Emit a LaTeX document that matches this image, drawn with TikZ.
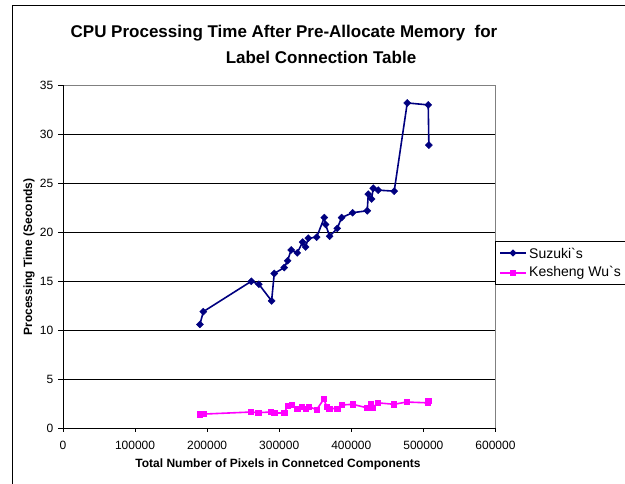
\documentclass[tikz,border=0pt]{standalone}
\usepackage{fontspec}
\setmainfont{Liberation Sans}
\usetikzlibrary{plotmarks}
\definecolor{suzuki}{HTML}{000080}
\definecolor{wu}{HTML}{FF00FF}
\definecolor{plotedge}{HTML}{808080}
\begin{document}
\begin{tikzpicture}[x={(1pt,0)}, y={(0,-1pt)},
  titletext/.style={font=\fontsize{17}{20}\selectfont\bfseries, inner sep=0pt},
  ticklab/.style={font=\fontsize{12}{14}\selectfont, inner sep=0pt},
  axtitle/.style={font=\fontsize{12}{14}\selectfont\bfseries, inner sep=0pt},
  legtext/.style={font=\fontsize{14}{16}\selectfont, inner sep=0pt, anchor=west},
  gridline/.style={black, line width=0.8pt},
  axisline/.style={black, line width=1pt},
  suzukiline/.style={suzuki, line width=1.6pt, mark=square*, mark size=2.5pt,
    mark options={rotate=45, solid, fill=suzuki, draw=suzuki, line width=0.4pt}},
  wuline/.style={wu, line width=1.6pt, mark=square*, mark size=2.6pt,
    mark options={solid, fill=wu, draw=wu, line width=0.4pt}}]
\useasboundingbox (0,0) rectangle (625,483);
\clip (0,0) rectangle (625,483);
\fill[white] (0,0) rectangle (625,483);
% chart frame
\draw[black, line width=1pt] (12,5) rectangle (660,520);

% title
\node[titletext, anchor=base] (title1) at (284,37.3) {CPU Processing Time After Pre-Allocate Memory\ \ for};
\node[titletext, anchor=base] (title2) at (321,63.3) {Label Connection Table};

% axis titles
\node[axtitle, rotate=90] (ytitle) at (29,257) {Processing Time (Seconds)};
\node[axtitle] (xtitle) at (278,464) {Total Number of Pixels in Connetced Components};

% plot area in data units (x in thousands of pixels, y in seconds)
\begin{scope}[shift={(63,428.3)}, x={(0.7208pt,0)}, y={(0,9.8pt)}]
  \draw[plotedge, line width=1pt] (0,35) -- (600,35) -- (600,0);
  \foreach \v in {5,10,...,30} \draw[gridline] (0,\v) -- (600,\v);
  \draw[axisline] (0,35) -- (0,0) -- (600,0);
  \foreach \v in {0,5,...,35} {
    \draw[axisline] (0,\v) -- ++(-5pt,0);
    \node[ticklab, anchor=east] at ([xshift=-9.5pt]0,\v) {\v};
  }
  \foreach \v/\lab in {0/0,100/100000,200/200000,300/300000,400/400000,500/500000,600/600000} {
    \draw[axisline] (\v,0) -- ++(0,-4pt);
    \node[ticklab] at ([yshift=-17pt]\v,0) {\lab};
  }

  % Suzuki's method
  \draw[suzukiline] plot coordinates {
    (190,10.6) (194.6,11.9) (261.2,15.0) (271.8,14.7) (289.4,13.0) (293.1,15.8)
    (306.9,16.4) (311.6,17.1) (316.5,18.2) (325,17.9) (332.4,19.0) (336.6,18.5)
    (340.3,19.4) (351.9,19.5) (362.5,21.5) (364.3,20.8) (369.9,19.6) (380.5,20.4)
    (386.5,21.5) (401.8,22.0) (422.1,22.2) (423.5,23.9) (428.1,23.4) (430.4,24.5)
    (437.3,24.3) (459.5,24.2) (477.6,33.2) (506.7,33.0) (507.6,28.9)};

  % Kesheng Wu's method
  \draw[wuline] plot coordinates {
    (190,1.43) (194.6,1.45) (260.7,1.66) (270.9,1.6) (288.5,1.66) (293.1,1.56)
    (307,1.56) (311.6,2.3) (317.1,2.38) (325,2.0) (331,2.2) (336.6,1.97)
    (341.2,2.2) (351.9,1.9) (362,3.0) (365.7,2.2) (369.4,2.0) (380.5,2.04)
    (386.5,2.38) (401.8,2.45) (421.2,2.1) (427.2,2.55) (429.6,2.1) (436.5,2.6)
    (459.1,2.45) (476.7,2.68) (505.8,2.6) (506.7,2.78)};
\end{scope}

% legend
\node[draw=black, line width=1pt, fill=white, anchor=north west,
      minimum width=140pt, minimum height=43pt, inner sep=0pt] (legend) at (495,241) {};
\draw[suzuki, line width=1.6pt] (500,253) -- (526,253);
\fill[suzuki, rotate around={45:(513,253)}] (510.4,250.4) rectangle (515.6,255.6);
\node[legtext] (legsuzuki) at (529,253) {Suzuki\textasciigrave s};
\draw[wu, line width=1.6pt] (500,273) -- (526,273);
\fill[wu] (510.4,270.4) rectangle (515.6,275.6);
\node[legtext] (legwu) at (529,273) {Kesheng Wu\textasciigrave s};
\end{tikzpicture}
\end{document}
